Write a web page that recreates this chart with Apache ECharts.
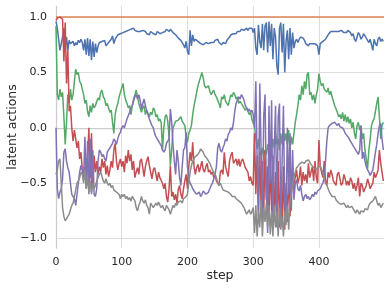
<!DOCTYPE html>
<html>
<head>
<meta charset="utf-8">
<script src="https://cdn.jsdelivr.net/npm/echarts@6/dist/echarts.min.js"></script>
<style>html,body{margin:0;padding:0;background:#fff;}#c{width:390px;height:289px;}</style>
</head>
<body>
<div id="c"></div>
<script>
// steps sampled every 2 (0..498)
const steps = Array.from({length: 250}, (_, i) => i * 2);
const xTicks = [0, 100, 200, 300, 400];
const yTicks = [-1.0, -0.5, 0.0, 0.5, 1.0];

const blue = [
0.96,0.9,0.8,0.7,0.76,0.82,0.9,0.72,0.82,0.7,0.79,0.76,0.75,0.78,0.74,0.77,0.75,0.79,0.77,0.8,0.77,0.7,0.8,0.66,0.81,
0.65,0.8,0.61,0.78,0.64,0.76,0.68,0.74,0.77,0.76,0.78,0.77,0.79,0.74,0.73,0.77,0.78,0.8,0.83,0.76,0.8,0.82,0.84,0.83,0.85,
0.84,0.86,0.85,0.87,0.86,0.88,0.87,0.89,0.88,0.9,0.88,0.89,0.87,0.88,0.87,0.86,0.88,0.89,0.87,0.85,0.86,0.84,0.87,0.86,0.85,
0.86,0.84,0.87,0.86,0.85,0.84,0.86,0.85,0.87,0.89,0.9,0.87,0.89,0.88,0.86,0.87,0.84,0.83,0.81,0.82,0.79,0.8,0.75,0.72,0.78,
0.69,0.66,0.88,0.74,0.84,0.78,0.8,0.79,0.78,0.77,0.76,0.77,0.75,0.76,0.77,0.78,0.76,0.75,0.77,0.78,0.77,0.79,0.78,0.8,0.77,
0.76,0.75,0.77,0.78,0.76,0.79,0.8,0.82,0.84,0.83,0.85,0.86,0.85,0.87,0.88,0.87,0.89,0.9,0.88,0.89,0.9,0.88,0.9,0.91,0.9,
0.86,0.9,0.72,0.66,0.93,0.78,0.72,0.94,0.7,0.92,0.95,0.68,0.96,0.74,0.94,0.62,0.9,0.82,0.56,0.48,0.9,0.95,0.68,0.94,0.5,
0.78,0.88,0.62,0.9,0.66,0.86,0.72,0.78,0.8,0.77,0.8,0.82,0.83,0.81,0.79,0.76,0.75,0.74,0.76,0.75,0.76,0.77,0.76,0.77,0.74,
0.66,0.76,0.77,0.78,0.79,0.8,0.82,0.84,0.85,0.87,0.88,0.87,0.86,0.87,0.86,0.87,0.86,0.88,0.87,0.86,0.87,0.86,0.88,0.89,0.86,
0.83,0.85,0.8,0.78,0.82,0.86,0.84,0.8,0.82,0.85,0.84,0.81,0.79,0.77,0.8,0.75,0.7,0.8,0.76,0.74,0.8,0.82,0.78,0.8,0.78
];

const orangeSteps = [0, 499];
const orange = [1.0, 1.0];

const green = [
0.92,0.3,0.25,0.35,0.28,0.32,0.1,-0.15,0.05,0.3,0.22,0.35,0.25,0.3,0.42,0.53,0.48,0.5,0.42,0.4,0.35,0.3,0.22,0.25,0.15,
0.1,0.2,0.14,0.22,0.18,0.2,0.24,0.27,0.25,0.32,0.34,0.28,0.26,0.2,0.22,0.18,0.14,0.16,0.05,-0.05,0.12,0.18,0.22,0.28,0.32,
0.36,0.4,0.3,0.25,0.22,0.18,0.2,0.12,0.2,0.26,0.3,0.34,0.28,0.22,0.18,0.14,0.18,0.2,0.12,0.16,0.13,0.1,0.14,0.12,0.18,
0.16,0.1,0.12,0.06,0.08,0.05,-0.2,0.0,0.1,0.12,0.06,-0.08,-0.34,-0.2,0.0,0.03,0.06,0.05,0.07,0.08,0.1,0.06,0.04,0.02,-0.08,
-0.13,-0.05,-0.02,0.02,0.12,0.2,0.26,0.32,0.38,0.42,0.46,0.5,0.45,0.38,0.36,0.35,0.38,0.33,0.3,0.32,0.34,0.3,0.28,0.25,0.22,
0.18,0.28,0.26,0.3,0.24,0.22,0.2,0.25,0.3,0.28,0.32,0.3,0.26,0.28,0.22,0.24,0.22,0.2,0.18,0.16,0.18,0.15,0.12,0.14,0.08,
0.04,0.02,-0.1,-0.19,-0.1,-0.2,-0.25,-0.18,-0.26,-0.2,-0.24,-0.15,-0.22,-0.12,-0.2,-0.1,-0.18,-0.05,-0.15,-0.1,-0.2,-0.05,-0.15,0.0,-0.12,
-0.05,-0.15,-0.02,-0.2,-0.08,-0.15,-0.05,0.05,0.12,0.2,0.3,0.25,0.38,0.3,0.42,0.35,0.48,0.5,0.3,0.32,0.25,0.3,0.22,0.3,0.35,
0.49,0.42,0.38,0.4,0.35,0.36,0.32,0.36,0.3,0.33,0.28,0.27,0.2,0.17,0.14,0.1,0.12,0.08,0.14,0.06,0.12,0.05,0.1,0.04,0.08,
0.0,0.05,-0.05,-0.1,0.02,0.05,-0.02,0.02,-0.1,-0.05,-0.2,-0.28,-0.37,-0.2,-0.1,0.02,0.06,0.08,0.15,0.22,0.28,0.1,-0.1,0.02,0.05
];

const red = [
0.97,0.99,1.0,1.0,0.99,0.98,0.6,0.95,0.4,0.7,0.15,0.2,0.0,-0.12,-0.02,-0.1,-0.18,-0.12,-0.28,-0.22,-0.38,-0.45,-0.35,-0.52,-0.3,
0.0,-0.45,-0.05,-0.5,-0.25,-0.4,-0.3,-0.42,-0.35,-0.4,-0.28,-0.36,-0.3,-0.42,-0.34,-0.44,-0.38,-0.3,-0.36,-0.2,-0.14,-0.3,-0.38,-0.32,-0.28,
-0.35,-0.3,-0.4,-0.25,-0.32,-0.2,-0.3,-0.24,-0.38,-0.3,-0.45,-0.4,-0.36,-0.42,-0.3,-0.28,-0.36,-0.44,-0.35,-0.3,-0.26,-0.34,-0.4,-0.46,-0.38,
-0.36,-0.42,-0.48,-0.4,-0.45,-0.44,-0.5,-0.55,-0.5,-0.62,-0.67,-0.55,-0.34,-0.62,-0.58,-0.65,-0.6,-0.68,-0.56,-0.52,-0.6,-0.64,-0.55,-0.48,-0.42,
-0.55,-0.35,-0.22,-0.3,-0.13,-0.35,-0.42,-0.36,-0.33,-0.4,-0.35,-0.3,-0.38,-0.4,-0.35,-0.32,-0.4,-0.38,-0.42,-0.4,-0.45,-0.42,-0.48,-0.5,-0.52,
-0.4,-0.38,-0.42,-0.22,-0.35,-0.4,-0.44,-0.3,-0.25,-0.22,-0.32,-0.3,-0.28,-0.34,-0.28,-0.35,-0.3,-0.28,-0.32,-0.36,-0.38,-0.4,-0.48,-0.44,-0.5,
-0.52,-0.05,-0.6,-0.25,-0.75,-0.22,-0.7,-0.3,-0.78,-0.2,-0.65,-0.35,-0.8,-0.3,-0.75,-0.25,-0.85,-0.4,-0.88,-0.3,-0.9,-0.45,-0.85,-0.35,-0.92,
-0.5,-0.85,-0.4,-0.8,-0.45,-0.55,-0.5,-0.45,-0.38,-0.5,-0.45,-0.35,-0.52,-0.4,-0.48,-0.42,-0.5,-0.32,-0.45,-0.4,-0.35,-0.48,-0.3,-0.45,-0.5,
-0.11,-0.35,-0.4,-0.45,-0.3,-0.48,-0.52,-0.4,-0.45,-0.38,-0.42,-0.48,-0.5,-0.52,-0.42,-0.4,-0.46,-0.52,-0.5,-0.42,-0.46,-0.52,-0.48,-0.52,-0.45,
-0.48,-0.55,-0.5,-0.57,-0.52,-0.45,-0.62,-0.5,-0.52,-0.58,-0.55,-0.52,-0.46,-0.5,-0.55,-0.52,-0.5,-0.4,-0.45,-0.42,-0.38,-0.2,-0.32,-0.4,-0.48
];

const purple = [
0.0,-0.55,-0.64,-0.58,-0.55,-0.46,-0.22,-0.19,-0.3,-0.36,-0.4,-0.5,-0.6,-0.62,-0.64,-0.7,-0.6,-0.5,-0.4,-0.34,-0.38,-0.45,-0.08,-0.55,-0.12,
-0.6,-0.1,-0.58,-0.2,-0.6,-0.62,-0.55,-0.3,-0.2,-0.22,-0.26,-0.24,-0.28,-0.3,-0.22,-0.2,-0.18,-0.16,-0.14,-0.1,-0.12,-0.15,-0.1,-0.06,-0.04,
0.0,0.02,0.0,0.04,0.08,0.11,0.14,0.18,0.2,0.24,0.28,0.3,0.26,0.3,0.25,0.17,0.22,0.26,0.2,0.15,0.12,0.08,0.05,0.02,0.0,
-0.05,-0.08,-0.1,-0.12,-0.14,-0.16,-0.2,-0.22,-0.2,-0.14,-0.12,-0.1,0.17,0.05,-0.15,-0.3,-0.42,-0.2,-0.3,-0.45,-0.52,-0.35,-0.2,-0.18,-0.04,
-0.35,-0.45,-0.5,-0.52,-0.55,-0.57,-0.58,-0.6,-0.6,-0.58,-0.62,-0.6,-0.57,-0.58,-0.6,-0.6,-0.58,-0.55,-0.52,-0.5,-0.46,-0.42,-0.35,-0.18,-0.14,
-0.2,-0.22,-0.18,-0.15,-0.1,-0.12,-0.06,-0.04,0.0,-0.02,0.05,0.15,0.22,0.25,0.28,0.26,0.3,0.28,0.25,0.2,0.18,0.15,0.17,0.14,0.16,
0.12,0.0,0.42,-0.3,-0.8,0.4,-0.2,-0.82,0.1,0.3,-0.6,-0.95,0.2,-0.5,0.25,-0.85,-0.2,0.2,-0.9,0.1,0.22,-0.88,-0.3,0.2,-0.7,
-0.8,0.0,-0.6,-0.05,-0.75,-0.2,-0.65,-0.5,-0.47,-0.55,-0.57,-0.52,-0.6,-0.66,-0.62,-0.6,-0.64,-0.62,-0.65,-0.63,-0.6,-0.62,-0.58,-0.6,-0.57,
-0.56,-0.55,-0.52,-0.5,-0.45,-0.3,-0.12,0.0,0.02,0.01,0.04,0.03,0.05,0.04,0.02,0.04,0.01,0.02,0.0,-0.02,-0.05,-0.06,-0.08,-0.1,-0.12,
-0.14,-0.16,-0.18,-0.19,-0.22,-0.24,-0.2,0.02,-0.28,-0.22,-0.3,-0.35,-0.38,-0.4,-0.43,-0.42,-0.38,-0.3,-0.22,-0.15,-0.05,0.02,0.04,-0.1,-0.2
];

const gray = [
-0.42,-0.38,-0.3,-0.28,-0.5,-0.72,-0.8,-0.84,-0.82,-0.8,-0.78,-0.74,-0.7,-0.68,-0.62,-0.56,-0.5,-0.48,-0.45,-0.4,-0.42,-0.5,-0.38,-0.55,-0.45,
-0.58,-0.48,-0.6,-0.5,-0.55,-0.52,-0.48,-0.45,-0.42,-0.4,-0.44,-0.48,-0.5,-0.46,-0.5,-0.52,-0.5,-0.54,-0.52,-0.56,-0.55,-0.58,-0.57,-0.6,-0.64,
-0.6,-0.62,-0.6,-0.64,-0.62,-0.65,-0.63,-0.66,-0.62,-0.64,-0.66,-0.72,-0.75,-0.7,-0.67,-0.62,-0.66,-0.68,-0.65,-0.7,-0.72,-0.78,-0.68,-0.7,-0.72,
-0.7,-0.68,-0.7,-0.67,-0.7,-0.72,-0.7,-0.73,-0.75,-0.7,-0.72,-0.74,-0.78,-0.74,-0.7,-0.72,-0.68,-0.7,-0.67,-0.68,-0.66,-0.68,-0.64,-0.65,-0.62,
-0.6,-0.5,-0.4,-0.34,-0.3,-0.28,-0.26,-0.25,-0.24,-0.22,-0.19,-0.18,-0.22,-0.25,-0.26,-0.28,-0.3,-0.32,-0.35,-0.38,-0.4,-0.42,-0.45,-0.5,-0.52,
-0.5,-0.53,-0.56,-0.55,-0.57,-0.56,-0.58,-0.57,-0.6,-0.62,-0.63,-0.62,-0.64,-0.63,-0.66,-0.65,-0.68,-0.7,-0.72,-0.75,-0.78,-0.76,-0.74,-0.78,-0.76,
-0.72,-0.95,-0.7,-0.98,-0.75,-0.9,-0.65,-0.98,-0.72,-0.85,-0.68,-0.9,-0.7,-0.96,-0.75,-0.98,-0.7,-0.9,-0.76,-0.98,-0.72,-0.92,-0.8,-0.98,-0.75,
-0.88,-0.7,-0.92,-0.65,-0.6,-0.5,-0.45,-0.4,-0.36,-0.35,-0.33,-0.34,-0.31,-0.3,-0.32,-0.3,-0.31,-0.29,-0.3,-0.33,-0.34,-0.36,-0.35,-0.38,-0.36,
-0.37,-0.34,-0.38,-0.4,-0.45,-0.5,-0.52,-0.55,-0.58,-0.6,-0.62,-0.63,-0.62,-0.65,-0.66,-0.68,-0.67,-0.69,-0.7,-0.68,-0.7,-0.72,-0.7,-0.72,-0.73,
-0.71,-0.73,-0.75,-0.77,-0.74,-0.76,-0.78,-0.75,-0.74,-0.76,-0.73,-0.72,-0.74,-0.7,-0.68,-0.67,-0.66,-0.64,-0.62,-0.66,-0.7,-0.68,-0.72,-0.7,-0.68
];

const pair = (xs, ys) => ys.map((v, i) => [xs[i], v]);
const fmt = v => Math.abs(v) < 1e-9 ? '0.0' : v.toFixed(1).replace('-', '\u2212');
const FONT = 'DejaVu Sans';

const mk = (name, color, xs, ys) => ({
  name, type: 'line', data: pair(xs, ys), showSymbol: false, symbol: 'none',
  lineStyle: { color, width: 1.5 }, itemStyle: { color }, animation: false, clip: true
});

const chart = echarts.init(document.getElementById('c'), null, { renderer: 'canvas' });
chart.setOption({
  animation: false,
  backgroundColor: '#ffffff',
  grid: { left: 56, right: 6, top: 6, bottom: 41, containLabel: false, outerBoundsMode: 'none' },
  xAxis: {
    type: 'value', min: 0, max: 499,
    name: 'step', nameLocation: 'middle', nameGap: 21, nameMoveOverlap: false,
    nameTextStyle: { fontFamily: FONT, fontSize: 12.5, color: '#262626' },
    axisLine: { show: true, lineStyle: { color: '#cccccc', width: 1.25 } },
    axisTick: { show: false, customValues: xTicks },
    axisLabel: { customValues: xTicks, fontFamily: FONT, fontSize: 11, color: '#262626', margin: 9, formatter: v => String(v) },
    splitLine: { show: true, lineStyle: { color: '#dddddd', width: 1.1 } }
  },
  yAxis: {
    type: 'value', min: -1.085, max: 1.1,
    name: 'latent actions', nameLocation: 'middle', nameGap: 37, nameMoveOverlap: false,
    nameTextStyle: { fontFamily: FONT, fontSize: 12.5, color: '#262626' },
    axisLine: { show: true, lineStyle: { color: '#cccccc', width: 1.25 } },
    axisTick: { show: false, customValues: yTicks },
    axisLabel: { customValues: yTicks, fontFamily: FONT, fontSize: 11, color: '#262626', margin: 9, formatter: fmt },
    splitLine: { show: true, lineStyle: { color: '#dddddd', width: 1.1 } }
  },
  series: [
    mk('blue', '#4c72b0', steps, blue),
    mk('orange', '#dd8452', orangeSteps, orange),
    mk('green', '#55a868', steps, green),
    mk('red', '#c44e52', steps, red),
    mk('purple', '#8172b3', steps, purple),
    mk('gray', '#8c8c8c', steps, gray)
  ]
});
</script>
</body>
</html>
